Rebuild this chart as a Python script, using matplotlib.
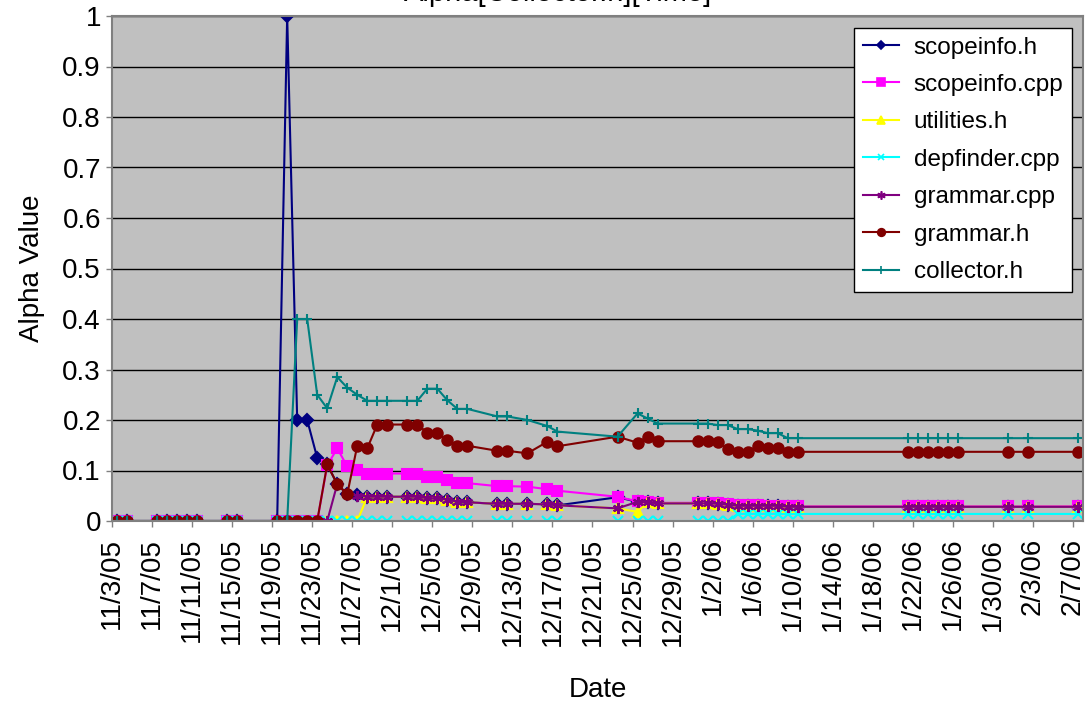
import numpy as np
import pandas as pd
import matplotlib
matplotlib.use('Agg')
import matplotlib.pyplot as plt
from matplotlib.lines import Line2D
import matplotlib.transforms as mtransforms

plt.rcParams['font.family'] = ['Liberation Sans', 'DejaVu Sans']

# sample dates (m/d/yy)
date_str = ['11/3/05', '11/4/05', '11/7/05', '11/8/05', '11/9/05', '11/10/05', '11/11/05',
            '11/14/05', '11/15/05', '11/19/05', '11/20/05', '11/21/05', '11/22/05', '11/23/05',
            '11/24/05', '11/25/05', '11/26/05', '11/27/05', '11/28/05', '11/29/05', '11/30/05',
            '12/2/05', '12/3/05', '12/4/05', '12/5/05', '12/6/05', '12/7/05', '12/8/05',
            '12/11/05', '12/12/05', '12/14/05', '12/16/05', '12/17/05', '12/23/05', '12/25/05',
            '12/26/05', '12/27/05', '12/31/05', '1/1/06', '1/2/06', '1/3/06', '1/4/06', '1/5/06',
            '1/6/06', '1/7/06', '1/8/06', '1/9/06', '1/10/06', '1/21/06', '1/22/06', '1/23/06',
            '1/24/06', '1/25/06', '1/26/06', '1/31/06', '2/2/06', '2/7/06']

z9 = [0]*9
scopeinfo_h = z9 + [0, 1.0, 0.2, 0.2, 0.125, 0.112, 0.073, 0.053, 0.051, 0.048, 0.048, 0.048,
                    0.048, 0.048, 0.045, 0.045, 0.042, 0.038, 0.037, 0.034, 0.034, 0.034, 0.033, 0.031,
                    0.047, 0.038, 0.037, 0.035, 0.035, 0.035, 0.034, 0.032, 0.030, 0.030, 0.030, 0.030,
                    0.030, 0.028, 0.028, 0.028, 0.028, 0.028, 0.028, 0.028, 0.028, 0.028, 0.028, 0.028]
scopeinfo_cpp = z9 + [0, 0, 0, 0, 0, 0.11, 0.144, 0.108, 0.101, 0.094, 0.094, 0.094,
                      0.094, 0.094, 0.088, 0.088, 0.081, 0.075, 0.075, 0.069, 0.069, 0.068, 0.063, 0.060,
                      0.048, 0.039, 0.038, 0.036, 0.036, 0.036, 0.035, 0.033, 0.031, 0.031, 0.031, 0.030,
                      0.030, 0.029, 0.029, 0.029, 0.029, 0.029, 0.029, 0.029, 0.029, 0.029, 0.029, 0.029]
utilities_h = z9 + [0, 0, 0, 0, 0, 0, 0, 0, 0, 0.048, 0.048, 0.048,
                    0.048, 0.048, 0.045, 0.045, 0.042, 0.038, 0.037, 0.034, 0.034, 0.034, 0.033, 0.031,
                    0.025, 0.018, 0.037, 0.035, 0.035, 0.035, 0.034, 0.032, 0.030, 0.030, 0.030, 0.030,
                    0.030, 0.028, 0.028, 0.028, 0.028, 0.028, 0.028, 0.028, 0.028, 0.028, 0.028, 0.028]
depfinder_cpp = z9 + [0]*32 + [0.014]*16
grammar_cpp = z9 + [0, 0, 0, 0, 0, 0, 0.073, 0.053, 0.050, 0.048, 0.048, 0.048,
                    0.048, 0.048, 0.045, 0.045, 0.042, 0.038, 0.037, 0.034, 0.034, 0.034, 0.033, 0.031,
                    0.025, 0.038, 0.037, 0.035, 0.035, 0.035, 0.034, 0.032, 0.030, 0.030, 0.030, 0.030,
                    0.030, 0.028, 0.028, 0.028, 0.028, 0.028, 0.028, 0.028, 0.028, 0.028, 0.028, 0.028]
grammar_h = z9 + [0, 0, 0, 0, 0, 0.112, 0.073, 0.053, 0.149, 0.144, 0.191, 0.191,
                  0.191, 0.191, 0.175, 0.175, 0.160, 0.149, 0.149, 0.139, 0.139, 0.134, 0.157, 0.148,
                  0.167, 0.155, 0.167, 0.158, 0.158, 0.158, 0.156, 0.143, 0.137, 0.137, 0.149, 0.145,
                  0.145, 0.137, 0.137, 0.137, 0.137, 0.137, 0.137, 0.137, 0.137, 0.137, 0.137, 0.137]
collector_h = z9 + [0, 0, 0.4, 0.4, 0.25, 0.223, 0.285, 0.264, 0.25, 0.238, 0.238, 0.238,
                    0.238, 0.238, 0.262, 0.262, 0.239, 0.222, 0.222, 0.207, 0.207, 0.200, 0.188, 0.177,
                    0.167, 0.213, 0.203, 0.193, 0.193, 0.193, 0.19, 0.19, 0.182, 0.182, 0.179, 0.174,
                    0.174, 0.164, 0.164, 0.164, 0.164, 0.164, 0.164, 0.164, 0.164, 0.164, 0.164, 0.164]

names = ['scopeinfo.h', 'scopeinfo.cpp', 'utilities.h', 'depfinder.cpp', 'grammar.cpp', 'grammar.h', 'collector.h']
series = [scopeinfo_h, scopeinfo_cpp, utilities_h, depfinder_cpp, grammar_cpp, grammar_h, collector_h]
colors = ['#000080', '#FF00FF', '#FFFF00', '#00FFFF', '#800080', '#800000', '#008080']
markers = ['D', 's', '^', 'x', (6, 2, 0), 'o', '+']
msizes = [6, 7, 6.5, 6.5, 8, 7.5, 7.5]
leg_ms = [4.5, 5.5, 5.5, 5, 6, 5.5, 6]

start = pd.Timestamp('2005-11-03')
dates = pd.to_datetime(date_str, format='%m/%d/%y')
x = np.array((dates - start).days) + 0.5

fig = plt.figure(figsize=(10.91, 7.04), dpi=100)
ax = fig.add_axes([112/1091, 183/704, 971/1091, 505/704])
ax.set_facecolor('#C0C0C0')

for name, y, c, m, ms in zip(names, series, colors, markers, msizes):
    ax.plot(x, y, color=c, lw=1.5, marker=m, ms=ms, mfc=c, mec=c, mew=1.5, label=name)

ax.set_xlim(0, 97)
ax.set_ylim(0, 1)
ax.set_yticks(np.arange(0, 1.01, 0.1))
ax.set_yticklabels(['0'] + ['%.1f' % v for v in np.arange(0.1, 0.95, 0.1)] + ['1'])
ticks = np.arange(0, 97, 4)
ax.set_xticks(ticks)
tdates = [start + pd.Timedelta(days=int(t)) for t in ticks]
ax.set_xticklabels(['%d/%d/%s' % (d.month, d.day, d.strftime('%y')) for d in tdates], rotation=90)
offset = mtransforms.ScaledTranslation(3/100, 0, fig.dpi_scale_trans)
for lab in ax.get_xticklabels():
    lab.set_transform(lab.get_transform() + offset)

ax.tick_params(axis='both', labelsize=20, direction='out', length=4, width=1, color='#808080')
ax.tick_params(axis='x', pad=8)
ax.tick_params(axis='y', pad=4)
ax.yaxis.grid(True, color='black', lw=1)
ax.set_axisbelow(True)
for s in ax.spines.values():
    s.set_color('#808080')
    s.set_linewidth(1.5)

ax.set_ylabel('Alpha Value', fontsize=20)
ax.yaxis.set_label_coords(-67/971, 0.5)
ax.set_xlabel('Date', fontsize=20, va='center')
ax.xaxis.set_label_coords(0.5, -169/505)

fig.text(558/1091, 1 - 1/704, 'Alpha[Collector.h][Time]', fontsize=21, ha='center', va='baseline')

handles = [Line2D([], [], color=c, lw=1.5, marker=m, ms=ms, mfc=c, mec=c, mew=1.2)
           for c, m, ms in zip(colors, markers, leg_ms)]
leg = ax.legend(handles, names, loc='upper right', bbox_to_anchor=(1072/1091, 1 - 28/704),
                bbox_transform=fig.transFigure, fontsize=17.5, frameon=True, fancybox=False,
                framealpha=1, edgecolor='black', borderaxespad=0, handlelength=1.5,
                handletextpad=0.6, labelspacing=0.635, borderpad=0.35)
leg.get_frame().set_linewidth(1)

fig.savefig('out.png', dpi=100)
